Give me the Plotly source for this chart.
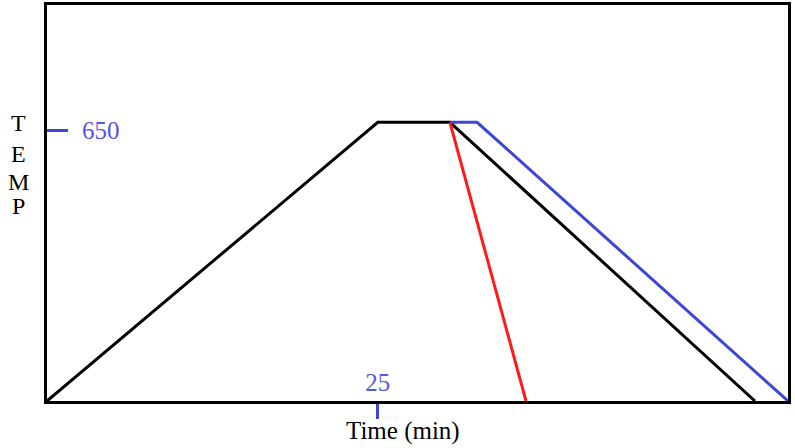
import plotly.graph_objects as go

# data (time in min, temperature)
black_x = [0, 25, 30.45, 53.5]
black_y = [0, 670, 670, 0]
blue_x = [30.45, 32.5, 56]
blue_y = [670, 670, 0]
red_x = [30.45, 36.2]
red_y = [670, 0]
x_ticks = [25]
y_ticks = [650]
y_title_letters = ["T", "E", "M", "P"]

BLUE = "#3d46d6"
BLUE_TXT = "#5656e0"
SERIF = "Liberation Serif, Times New Roman, serif"

fig = go.Figure()
fig.add_trace(go.Scatter(x=black_x, y=black_y, mode="lines",
                         line=dict(color="black", width=3), cliponaxis=False))
fig.add_trace(go.Scatter(x=blue_x, y=blue_y, mode="lines",
                         line=dict(color=BLUE, width=3), cliponaxis=False))
fig.add_trace(go.Scatter(x=red_x, y=red_y, mode="lines",
                         line=dict(color="#ff1a1a", width=3), cliponaxis=False))

fig.update_layout(
    width=795, height=448,
    margin=dict(l=47, r=7, t=5, b=47),
    paper_bgcolor="white", plot_bgcolor="white",
    showlegend=False,
    xaxis=dict(range=[0, 56], showgrid=False, zeroline=False, automargin=False,
               showline=True, linecolor="black", linewidth=3, mirror=True,
               tickvals=x_ticks, ticktext=[str(v) for v in x_ticks],
               ticks="outside", ticklen=15, tickwidth=3, tickcolor=BLUE,
               ticklabelposition="inside", ticklabelstandoff=7,
               tickfont=dict(family=SERIF, size=25, color=BLUE_TXT)),
    yaxis=dict(range=[0, 952], showgrid=False, zeroline=False, automargin=False,
               showline=True, linecolor="black", linewidth=3, mirror=True,
               tickvals=y_ticks, ticktext=[str(v) for v in y_ticks],
               ticks="inside", ticklen=21, tickwidth=3, tickcolor=BLUE,
               ticklabelposition="inside", ticklabelstandoff=16,
               tickfont=dict(family=SERIF, size=25, color=BLUE_TXT)),
)

letter_centers = [124.5, 156, 183.5, 207.5]
for ch, cy in zip(y_title_letters, letter_centers):
    fig.add_annotation(text=ch, xref="paper", yref="paper",
                       x=0, y=1, xanchor="center", yanchor="middle",
                       xshift=-(47 - 18), yshift=-(cy - 5) + 2,
                       showarrow=False,
                       font=dict(family=SERIF, size=24, color="black"))
fig.add_annotation(text="Time (min)", xref="paper", yref="paper",
                   x=(403 - 47) / 741, y=0, xanchor="center", yanchor="middle",
                   yshift=-(431 - 401), showarrow=False,
                   font=dict(family=SERIF, size=25, color="black"))

fig.write_html("out.html", config={"displayModeBar": False},
               post_script="document.body.style.margin='0';")
